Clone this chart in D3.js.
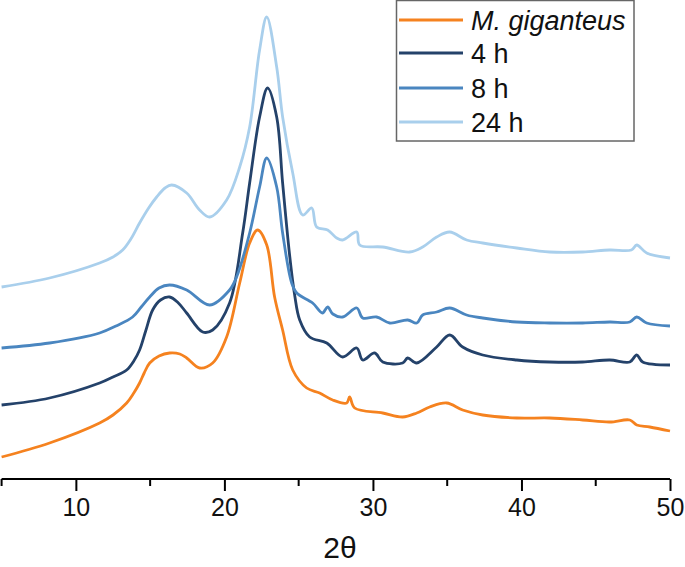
<!DOCTYPE html>
<html>
<head>
<meta charset="utf-8">
<script src="https://cdn.jsdelivr.net/npm/d3@7/dist/d3.min.js"></script>
<style>
  html, body { margin: 0; padding: 0; background: #fff; }
  svg { display: block; }
</style>
</head>
<body>
<svg id="chart" width="685" height="567"></svg>
<script>
// ---- Data (2θ, intensity a.u.) ----
const seriesNames = ["M. giganteus", "4 h", "8 h", "24 h"];
const seriesColors = ["#f5821f", "#24426a", "#4a86c0", "#a9cfec"];

const giganteus = [
  [5.0,24],[8.23,38],[11.6,58],[12.5,66],[13.42,78],[13.9,88],[14.29,98],[14.6,108],[14.97,118],[15.6,125],
  [16.31,128],[17.0,127],[17.46,123],[18.33,113],[19.21,118],[20.15,144],[21.03,198],[21.7,238],
  [22.24,251],[22.85,236],[23.38,184],[23.92,151],[24.6,111],[25.54,93],[26.41,88],[27.29,81],
  [28.23,78],[28.43,84],[28.77,73],[30.66,68],[32.0,64],[32.95,68],[33.82,74],[34.97,78],[36.04,71],
  [37.39,66],[39.68,63],[41.9,63],[44.12,61],[45.94,59],[47.29,61],[47.76,56],[48.64,54],[50.0,50]
];
const h4 = [
  [5.0,76],[8.23,83],[11.6,98],[12.5,104],[13.42,111],[13.9,120],[14.29,131],[14.7,150],[15.17,171],
  [15.7,181],[16.31,184],[16.9,178],[17.46,168],[18.54,149],[19.21,151],[20.35,178],[21.23,248],
  [21.7,298],[22.37,364],[22.91,393],[23.52,364],[23.92,298],[24.39,226],[24.73,186],[25.07,161],
  [25.74,144],[26.89,138],[27.96,124],[28.91,133],[29.31,121],[30.12,128],[30.66,119],[32.0,118],
  [32.34,123],[32.95,118],[34.29,134],[35.17,146],[36.04,134],[37.39,126],[39.68,121],[41.9,119],
  [44.12,119],[45.94,121],[47.29,119],[47.76,126],[48.16,119],[50.0,116]
];
const h8 = [
  [5.0,133],[8.23,138],[11.6,148],[12.7,155],[13.82,164],[14.4,174],[14.97,184],[15.6,193],[16.31,196],
  [17.46,191],[19.01,176],[20.35,191],[20.82,204],[21.7,248],[22.37,294],[22.85,323],[23.52,294],
  [23.92,248],[24.53,198],[24.87,188],[25.94,178],[26.6,168],[26.95,174],[27.3,167],[27.96,164],
  [28.91,173],[29.31,163],[30.25,164],[31.13,158],[32.34,161],[32.95,158],[33.35,166],[34.29,169],
  [35.17,173],[36.31,166],[37.39,163],[39.68,159],[41.9,158],[44.12,158],[45.94,159],[47.29,159],
  [47.76,164],[48.43,158],[50.0,155]
];
const h24 = [
  [5.0,194],[8.23,203],[11.6,218],[12.5,224],[13.15,231],[13.7,242],[14.29,258],[14.9,273],[15.44,284],
  [16.0,293],[16.45,296],[17.46,288],[18.33,271],[19.01,264],[20.15,281],[21.03,314],[21.7,354],
  [22.37,431],[22.85,464],[23.52,414],[23.92,364],[24.6,308],[25.27,266],[25.88,273],[26.21,254],
  [26.95,251],[27.56,243],[27.96,241],[28.91,249],[29.11,236],[30.66,234],[32.47,229],[33.35,234],
  [34.29,244],[35.17,249],[36.31,241],[37.39,238],[39.68,233],[41.9,229],[44.12,229],[45.94,231],
  [47.4,231],[47.76,236],[48.43,228],[50.0,223]
];
const seriesData = [giganteus, h4, h8, h24];

const xMajorTicks = [10, 20, 30, 40, 50];
const xMinorTicks = [5, 15, 25, 35, 45];
const xLabel = "2θ";

// ---- Layout ----
const svg = d3.select("#chart");
const x = d3.scaleLinear().domain([5, 50]).range([1.6, 670]);
const y = d3.scaleLinear().domain([0, 481]).range([481, 0]);
const axisY = 479;

const line = d3.line().x(d => x(d[0])).y(d => y(d[1])).curve(d3.curveCatmullRom.alpha(0.5));

// curves
seriesData.forEach((s, i) => {
  svg.append("path")
    .datum(s)
    .attr("fill", "none")
    .attr("stroke", seriesColors[i])
    .attr("stroke-width", 2.8)
    .attr("stroke-linejoin", "round")
    .attr("d", line);
});

// x axis
const axisG = svg.append("g").attr("transform", `translate(0,${axisY})`);
const major = d3.axisBottom(x).tickValues(xMajorTicks).tickSize(12).tickPadding(7).tickFormat(d3.format("d"));
axisG.call(major);
axisG.select(".domain").attr("d", `M${x(5)},0H${x(50)}`).attr("stroke", "#000").attr("stroke-width", 2);
axisG.selectAll(".tick line").attr("stroke", "#000").attr("stroke-width", 2);
axisG.selectAll(".tick text")
  .attr("font-family", "Liberation Sans, Arial, sans-serif")
  .attr("font-size", 25)
  .attr("fill", "#111");
axisG.selectAll(".minor").data(xMinorTicks).enter().append("line")
  .attr("class", "minor")
  .attr("x1", d => x(d)).attr("x2", d => x(d))
  .attr("y1", 0).attr("y2", 7)
  .attr("stroke", "#000").attr("stroke-width", 2);

svg.append("text")
  .attr("x", 340).attr("y", 558)
  .attr("text-anchor", "middle")
  .attr("font-family", "Liberation Sans, Arial, sans-serif")
  .attr("font-size", 30)
  .attr("fill", "#111")
  .text(xLabel);

// legend
const lg = svg.append("g");
lg.append("rect")
  .attr("x", 396.5).attr("y", 0.5).attr("width", 237.5).attr("height", 140.5)
  .attr("fill", "#fff").attr("stroke", "#666").attr("stroke-width", 1.5);
const rowsY = [20, 53, 88, 122];
seriesNames.forEach((n, i) => {
  lg.append("line")
    .attr("x1", 399).attr("x2", 463)
    .attr("y1", rowsY[i]).attr("y2", rowsY[i])
    .attr("stroke", seriesColors[i]).attr("stroke-width", 3);
  lg.append("text")
    .attr("x", 471).attr("y", rowsY[i])
    .attr("dy", "0.36em")
    .attr("font-family", "Liberation Sans, Arial, sans-serif")
    .attr("font-size", 27)
    .attr("font-style", i === 0 ? "italic" : "normal")
    .attr("fill", "#111")
    .text(n);
});
</script>
</body>
</html>
